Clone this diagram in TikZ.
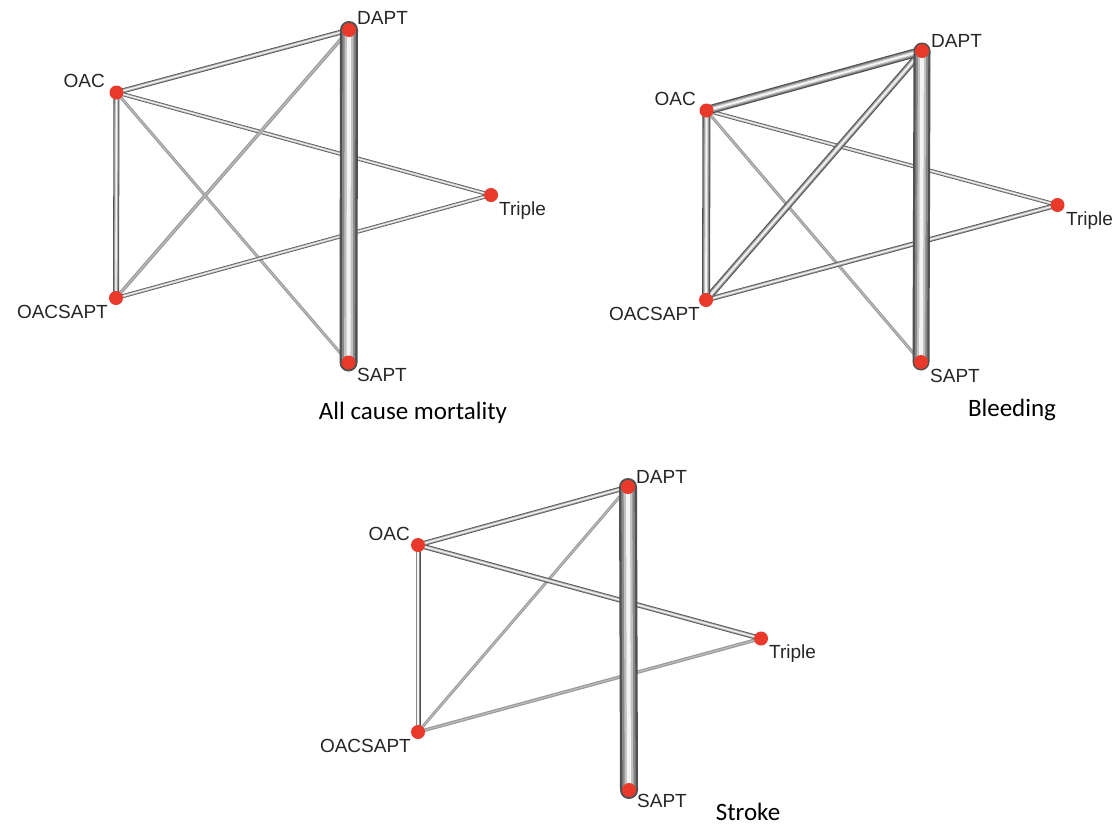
\documentclass[tikz,border=0pt]{standalone}
\usepackage{fontspec}
\setmainfont{Liberation Sans}
\newfontfamily\titlefont{Carlito}
\usetikzlibrary{backgrounds}
\definecolor{dotred}{HTML}{E8392A}
\definecolor{tubeA}{HTML}{505050}
\definecolor{tubeB}{HTML}{888888}
\definecolor{tubeC}{HTML}{C2C2C2}
\definecolor{tubeD}{HTML}{F4F4F4}
\definecolor{lineA}{HTML}{999999}
\definecolor{lineB}{HTML}{BBBBBB}
\tikzset{
  dot/.style={circle, fill=dotred, inner sep=0pt, minimum size=14pt},
  lab/.style={font=\fontsize{19}{19}\selectfont, text=black!85, inner sep=0pt},
  ttl/.style={font=\titlefont\fontsize{25}{25}\selectfont, inner sep=0pt},
  tube/.style={draw=tubeA, line width=#1pt,
    postaction={draw=tubeB, line width=0.74*#1pt},
    postaction={draw=tubeC, line width=0.48*#1pt},
    postaction={draw=tubeD, line width=0.22*#1pt}},
  bigtube/.style={tube=#1, line cap=round},
  thinline/.style={draw=lineA, line width=#1pt,
    postaction={draw=lineB, line width=0.35*#1pt}}
}
\begin{document}
\begin{tikzpicture}[x=1pt, y=-1pt]
\useasboundingbox (0,0) rectangle (1114,833);
\begin{scope}[on background layer]
  \fill[white] (0,0) rectangle (1114,833);
\end{scope}

% ---- All cause mortality ----
\node[dot] (aD) at (349,30) {};
\node[dot] (aO) at (116.5,92.5) {};
\node[dot] (aT) at (491,195) {};
\node[dot] (aOS) at (116,298) {};
\node[dot] (aS) at (348.5,362.5) {};
\node[lab, anchor=base west] (aDl) at (357,24) {DAPT};
\node[lab, anchor=base east] (aOl) at (105,87) {OAC};
\node[lab, anchor=base west] (aTl) at (499,215) {Triple};
\node[lab, anchor=base east] (aOSl) at (108,318.5) {OACSAPT};
\node[lab, anchor=base west] (aSl) at (357,381) {SAPT};
\node[ttl] (aTitle) at (413,413) {All cause mortality};
\begin{scope}[on background layer]
  \draw[thinline=3] (aO.center) -- (aS.center);
  \draw[tube=4] (aO.center) -- (aT.center);
  \draw[tube=4] (aOS.center) -- (aT.center);
  \draw[thinline=3.5] (aOS.center) -- (aD.center);
  \draw[tube=5] (aO.center) -- (aD.center);
  \draw[tube=6] (aO.center) -- (aOS.center);
  \draw[bigtube=18] (aD.center) -- (aS.center);
\end{scope}

% ---- Bleeding ----
\node[dot] (bD) at (922,51) {};
\node[dot] (bO) at (706.5,110.5) {};
\node[dot] (bT) at (1057.5,205) {};
\node[dot] (bOS) at (706,300) {};
\node[dot] (bS) at (921,362) {};
\node[lab, anchor=base west] (bDl) at (931,47) {DAPT};
\node[lab, anchor=base east] (bOl) at (696,105) {OAC};
\node[lab, anchor=base west] (bTl) at (1066,225) {Triple};
\node[lab, anchor=base east] (bOSl) at (700,320) {OACSAPT};
\node[lab, anchor=base west] (bSl) at (930,382) {SAPT};
\node[ttl] (bTitle) at (1012,410) {Bleeding};
\begin{scope}[on background layer]
  \draw[thinline=3] (bO.center) -- (bS.center);
  \draw[tube=4] (bO.center) -- (bT.center);
  \draw[tube=5] (bOS.center) -- (bT.center);
  \draw[tube=7] (bOS.center) -- (bD.center);
  \draw[tube=9] (bO.center) -- (bD.center);
  \draw[tube=8] (bO.center) -- (bOS.center);
  \draw[bigtube=17] (bD.center) -- (bS.center);
\end{scope}

% ---- Stroke ----
\node[dot] (cD) at (628,487) {};
\node[dot] (cO) at (418,545) {};
\node[dot] (cT) at (761,638.5) {};
\node[dot] (cOS) at (418,732) {};
\node[dot] (cS) at (629,790) {};
\node[lab, anchor=base west] (cDl) at (636,483) {DAPT};
\node[lab, anchor=base east] (cOl) at (410,540) {OAC};
\node[lab, anchor=base west] (cTl) at (769,658) {Triple};
\node[lab, anchor=base east] (cOSl) at (411,752) {OACSAPT};
\node[lab, anchor=base west] (cSl) at (637,807) {SAPT};
\node[ttl] (cTitle) at (748,812) {Stroke};
\begin{scope}[on background layer]
  \draw[thinline=3] (cOS.center) -- (cD.center);
  \draw[thinline=3.5] (cOS.center) -- (cT.center);
  \draw[tube=5] (cO.center) -- (cT.center);
  \draw[tube=5] (cO.center) -- (cD.center);
  \draw[tube=5] (cO.center) -- (cOS.center);
  \draw[bigtube=18] (cD.center) -- (cS.center);
\end{scope}
\end{tikzpicture}
\end{document}
